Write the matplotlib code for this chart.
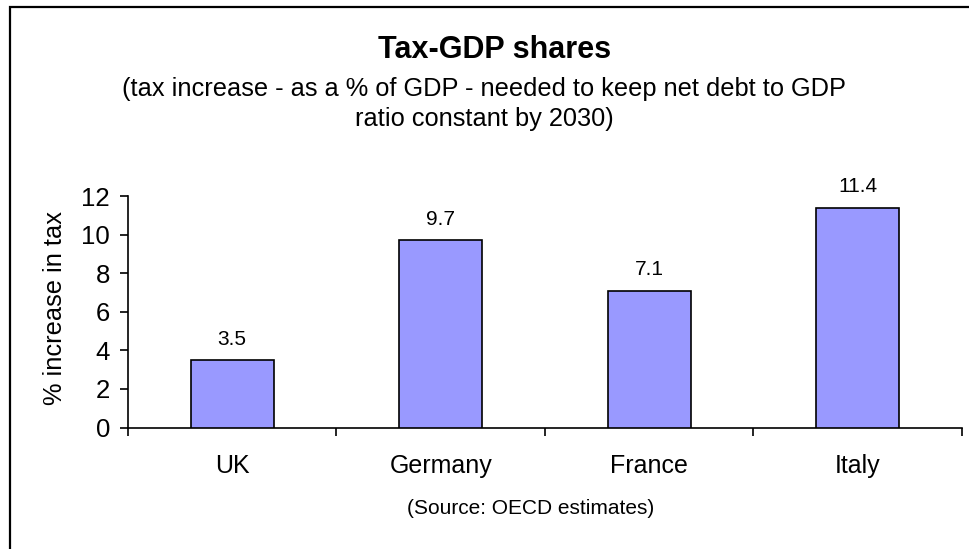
import matplotlib
matplotlib.use("Agg")
import matplotlib.pyplot as plt
from matplotlib.patches import Rectangle
import numpy as np

plt.rcParams['font.family'] = ['Liberation Sans', 'DejaVu Sans']

countries = ["UK", "Germany", "France", "Italy"]
tax_increase = [3.5, 9.7, 7.1, 11.4]
y_ticks = [0, 2, 4, 6, 8, 10, 12]

title = "Tax-GDP shares"
subtitle = ("(tax increase - as a % of GDP - needed to keep net debt to GDP\n"
            "ratio constant by 2030)")
source = "(Source: OECD estimates)"
y_label = "% increase in tax"

W, H = 970, 549
fig = plt.figure(figsize=(W / 100, H / 100), dpi=100)
fig.patch.set_facecolor("white")

# plot area in pixel terms
left, right, bottom, top = 128, 962, 427.5, 196
ax = fig.add_axes([left / W, 1 - bottom / H, (right - left) / W, (bottom - top) / H])

x = np.arange(len(countries))
ax.bar(x, tax_increase, width=0.40, color="#9999FF",
       edgecolor="black", linewidth=1.2, zorder=3)

for xi, v in zip(x, tax_increase):
    ax.annotate(f"{v:.1f}", (xi, v), xytext=(0, 8), textcoords="offset points",
                ha="center", va="bottom", fontsize=15, color="black")

ax.set_xlim(-0.5, len(countries) - 0.5)
ax.set_ylim(0, 12)
ax.set_yticks(y_ticks)
ax.set_yticklabels([str(t) for t in y_ticks], fontsize=18.5)

ax.set_xticks(x)
ax.set_xticklabels(countries, fontsize=18)
ax.tick_params(axis="x", which="major", length=0, pad=19)
ax.set_xticks(np.arange(-0.5, len(countries)), minor=True)
ax.tick_params(axis="x", which="minor", direction="out", length=6, width=1.2)
ax.tick_params(axis="y", which="major", direction="out", length=6, width=1.2, pad=7)

for s in ("top", "right"):
    ax.spines[s].set_visible(False)
for s in ("left", "bottom"):
    ax.spines[s].set_linewidth(1.2)

ax.set_ylabel(y_label, fontsize=18.3)
ax.yaxis.set_label_coords((67 - left) / (right - left), (bottom - 308) / (bottom - top))

fig.text(495 / W, 1 - 50 / H, title, ha="center", va="center",
         fontsize=22, fontweight="bold")
fig.text(484 / W, 1 - 104 / H, subtitle, ha="center", va="center",
         fontsize=18.3, linespacing=1.3)
fig.text(531 / W, 1 - 508 / H, source, ha="center", va="center", fontsize=15)

# outer frame
fig.add_artist(Rectangle((10 / W, -0.5), 2.0, 1.5 - 6.7 / H,
                         transform=fig.transFigure, fill=False,
                         edgecolor="black", linewidth=1.6))

fig.savefig("out.png", dpi=100)
